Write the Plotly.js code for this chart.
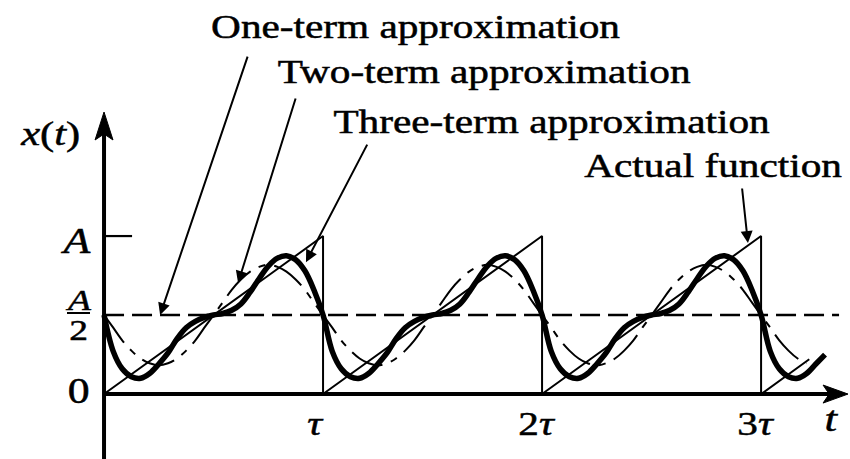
<!DOCTYPE html>
<html>
<head>
<meta charset="utf-8">
<script src="https://cdn.plot.ly/plotly-3.0.1.min.js"></script>
<style>
  html, body { margin: 0; padding: 0; background: #fff; }
  #chart { width: 850px; height: 459px; }
</style>
</head>
<body>
<div id="chart"></div>
<script>
// Time axis in units of the period tau, amplitude in units of A.

// Actual function: sawtooth rising from 0 to A over each period
const sawT = [0, 1, 1, 2, 2, 3, 3, 3.22];
const sawX = [0, 1, 0, 1, 0, 1, 0, 0.22];

// One-term approximation (constant A/2)
const oneT = [0, 3.356];
const oneX = [0.5, 0.5];

// Two-term approximation, sampled every tau/24
const twoT = [
  0, 0.042, 0.083, 0.125, 0.167, 0.208, 0.25, 0.292, 0.333, 0.375, 0.417, 0.458,
  0.5, 0.542, 0.583, 0.625, 0.667, 0.708, 0.75, 0.792, 0.833, 0.875, 0.917, 0.958,
  1, 1.042, 1.083, 1.125, 1.167, 1.208, 1.25, 1.292, 1.333, 1.375, 1.417, 1.458,
  1.5, 1.542, 1.583, 1.625, 1.667, 1.708, 1.75, 1.792, 1.833, 1.875, 1.917, 1.958,
  2, 2.042, 2.083, 2.125, 2.167, 2.208, 2.25, 2.292, 2.333, 2.375, 2.417, 2.458,
  2.5, 2.542, 2.583, 2.625, 2.667, 2.708, 2.75, 2.792, 2.833, 2.875, 2.917, 2.958,
  3, 3.042, 3.083, 3.125, 3.167, 3.208
];
const twoX = [
  0.50, 0.42, 0.34, 0.275, 0.225, 0.195, 0.182, 0.195, 0.225, 0.275, 0.34, 0.42,
  0.50, 0.58, 0.66, 0.725, 0.775, 0.805, 0.818, 0.805, 0.775, 0.725, 0.66, 0.58,
  0.50, 0.42, 0.34, 0.275, 0.225, 0.195, 0.182, 0.195, 0.225, 0.275, 0.34, 0.42,
  0.50, 0.58, 0.66, 0.725, 0.775, 0.805, 0.818, 0.805, 0.775, 0.725, 0.66, 0.58,
  0.50, 0.42, 0.34, 0.275, 0.225, 0.195, 0.182, 0.195, 0.225, 0.275, 0.34, 0.42,
  0.50, 0.58, 0.66, 0.725, 0.775, 0.805, 0.818, 0.805, 0.775, 0.725, 0.66, 0.58,
  0.50, 0.42, 0.34, 0.275, 0.225, 0.195
];

// Three-term approximation (heavy curve), sampled every tau/24
const threeT = [
  0, 0.042, 0.083, 0.125, 0.167, 0.208, 0.25, 0.292, 0.333, 0.375, 0.417, 0.458,
  0.5, 0.542, 0.583, 0.625, 0.667, 0.708, 0.75, 0.792, 0.833, 0.875, 0.917, 0.958,
  1, 1.042, 1.083, 1.125, 1.167, 1.208, 1.25, 1.292, 1.333, 1.375, 1.417, 1.458,
  1.5, 1.542, 1.583, 1.625, 1.667, 1.708, 1.75, 1.792, 1.833, 1.875, 1.917, 1.958,
  2, 2.042, 2.083, 2.125, 2.167, 2.208, 2.25, 2.292, 2.333, 2.375, 2.417, 2.458,
  2.5, 2.542, 2.583, 2.625, 2.667, 2.708, 2.75, 2.792, 2.833, 2.875, 2.917, 2.958,
  3, 3.042, 3.083, 3.125, 3.167, 3.208, 3.25, 3.292
];
const threeX = [
  0.50, 0.27, 0.16, 0.11, 0.10, 0.13, 0.19, 0.26, 0.35, 0.42, 0.46, 0.485,
  0.50, 0.51, 0.53, 0.57, 0.645, 0.73, 0.81, 0.86, 0.875, 0.85, 0.78, 0.66,
  0.50, 0.27, 0.16, 0.11, 0.10, 0.13, 0.19, 0.26, 0.35, 0.42, 0.46, 0.485,
  0.50, 0.51, 0.53, 0.57, 0.645, 0.73, 0.81, 0.86, 0.875, 0.85, 0.78, 0.66,
  0.50, 0.27, 0.16, 0.11, 0.10, 0.13, 0.19, 0.26, 0.35, 0.42, 0.46, 0.485,
  0.50, 0.51, 0.53, 0.57, 0.645, 0.73, 0.81, 0.86, 0.875, 0.85, 0.78, 0.66,
  0.50, 0.27, 0.16, 0.11, 0.10, 0.13, 0.19, 0.25
];

// Axis labels
const periodTicks = [1, 2, 3];
const periodLabels = ['<i>τ</i>', '2<i>τ</i>', '3<i>τ</i>'];

const SERIF = 'Liberation Serif, Times New Roman, serif';
const INK = '#000';

const traces = [
  { x: sawT, y: sawX, mode: 'lines', line: { color: INK, width: 2 }, hoverinfo: 'skip' },
  { x: oneT, y: oneX, mode: 'lines', line: { color: INK, width: 2.5, dash: '20px,8px' }, hoverinfo: 'skip' },
  { x: twoT, y: twoX, mode: 'lines', line: { color: INK, width: 2, dash: '34px,9px,7px,9px', shape: 'spline', smoothing: 1 }, hoverinfo: 'skip' },
  { x: threeT, y: threeX, mode: 'lines', line: { color: INK, width: 5.5, shape: 'spline', smoothing: 1 }, hoverinfo: 'skip' }
];

const shapes = [
  // vertical axis
  { type: 'line', xref: 'x', yref: 'y', x0: 0, x1: 0, y0: -0.45, y1: 1.66, line: { color: INK, width: 4 } },
  { type: 'path', xref: 'x', yref: 'y', path: 'M0,1.785 L0.041,1.608 L0,1.646 L-0.041,1.608 Z', fillcolor: INK, line: { color: INK, width: 1 } },
  // horizontal axis
  { type: 'line', xref: 'x', yref: 'y', x0: 0, x1: 3.31, y0: 0, y1: 0, line: { color: INK, width: 4 } },
  { type: 'path', xref: 'x', yref: 'y', path: 'M3.397,0 L3.283,0.057 L3.311,0 L3.283,-0.057 Z', fillcolor: INK, line: { color: INK, width: 1 } },
  // tick mark at A
  { type: 'line', xref: 'x', yref: 'y', x0: 0, x1: 0.128, y0: 1, y1: 1, line: { color: INK, width: 2.2 } },
  // fraction bar of A/2
  { type: 'line', xref: 'paper', yref: 'y', x0: 0.0788, x1: 0.1059, y0: 0.513, y1: 0.513, line: { color: INK, width: 2 } }
];

function label(text, x, y, size, extra) {
  return Object.assign({
    text: text, x: x, y: y, xref: 'paper', yref: 'paper',
    xanchor: 'center', yanchor: 'middle', showarrow: false,
    font: { family: SERIF, size: size, color: INK }
  }, extra || {});
}

function pointer(x, y, ax, ay) {
  return {
    text: '', x: x, y: y, xref: 'x', yref: 'y', ax: ax, ay: ay,
    showarrow: true, arrowhead: 2, arrowsize: 1.2, arrowwidth: 2,
    arrowcolor: INK, standoff: 0
  };
}

const annotations = [
  label('One-term approximation', 0.4894, 0.9412, 33),
  label('Two-term approximation', 0.5694, 0.8431, 33),
  label('Three-term approximation', 0.6494, 0.7342, 33),
  label('Actual function', 0.8388, 0.6383, 33),
  label('<i>x</i>(<i>t</i>)', 0.0588, 0.7081, 34),
  label('<i>t</i>', 0.9788, 0.0871, 36),
  label('<i>A</i>', 0.0894, 1, 35, { yref: 'y', yshift: -5 }),
  label('<i>A</i>', 0.0918, 0.601, 30, { yref: 'y' }),
  label('2', 0.0918, 0.411, 30, { yref: 'y' }),
  label('0', 0.0929, 0, 35, { yref: 'y', yshift: 3 }),
  pointer(0.256, 0.5, 88, -260),
  pointer(0.612, 0.703, 58, -186),
  pointer(0.922, 0.835, 62, -119),
  pointer(2.94, 0.956, -6, -56)
];

periodTicks.forEach(function (p, i) {
  annotations.push(label(periodLabels[i], p, 0.0763, 33, { xref: 'x', xshift: i === 0 ? -8 : -5 }));
});

const layout = {
  width: 850, height: 459,
  margin: { l: 0, r: 0, t: 0, b: 0 },
  paper_bgcolor: '#fff', plot_bgcolor: '#fff',
  showlegend: false,
  xaxis: { range: [-0.475, 3.406], visible: false, showgrid: false, zeroline: false },
  yaxis: { range: [-0.411, 2.494], visible: false, showgrid: false, zeroline: false },
  shapes: shapes,
  annotations: annotations
};

Plotly.newPlot('chart', traces, layout, { staticPlot: true }).then(function (gd) {
  // widen the serif lettering horizontally and give it a slightly heavier stroke
  gd.querySelectorAll('g.annotation text.annotation-text').forEach(function (el) {
    el.style.transformBox = 'fill-box';
    el.style.transformOrigin = 'center';
    el.style.transform = 'scaleX(1.25)';
    el.style.stroke = INK;
    el.style.strokeWidth = '0.5px';
  });
});
</script>
</body>
</html>
